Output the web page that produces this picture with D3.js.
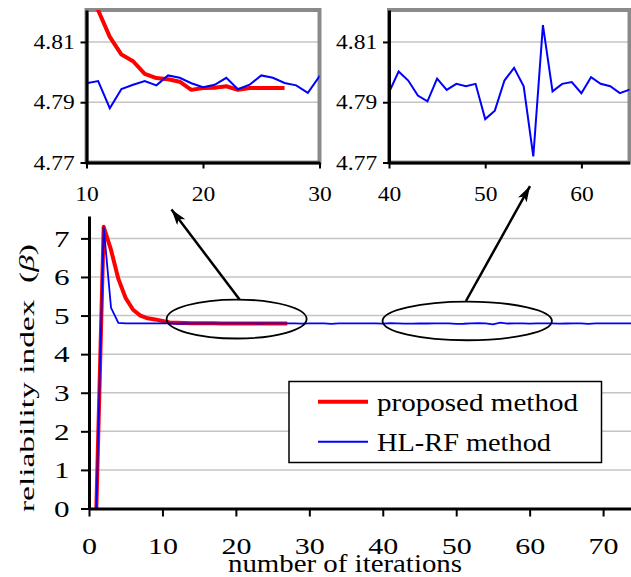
<!DOCTYPE html>
<html>
<head>
<meta charset="UTF-8">
<script src="https://d3js.org/d3.v7.min.js"></script>
<style>
  body { margin: 0; background: #fff; }
  svg { display: block; font-family: "Liberation Serif", "Times New Roman", Times, serif; }
  .grid line { stroke: #c4c4c4; stroke-width: 1.5px; }
</style>
</head>
<body>
<svg id="chart"></svg>
<script>
// proposed method, iterations 1..27
const proposed = [0, 7.3, 6.7, 5.95, 5.45, 5.15, 5.0, 4.93, 4.9, 4.86,
  4.8205, 4.8117, 4.8058, 4.8036, 4.7994, 4.798, 4.7976, 4.7968, 4.7941, 4.7947,
  4.7948, 4.7953, 4.7941, 4.7947, 4.7947, 4.7947, 4.7947];
// HL-RF method, iterations 1..74
const hlrf = [0, 7.3, 5.2, 4.81, 4.798, 4.797, 4.799, 4.796, 4.797, 4.7963,
  4.797, 4.788, 4.7944, 4.7958, 4.797, 4.7956, 4.7989, 4.7981, 4.7963, 4.795,
  4.7958, 4.7981, 4.7943, 4.7958, 4.7989, 4.7981, 4.7964, 4.7956, 4.7931, 4.7986,
  4.797, 4.796, 4.785, 4.796, 4.797, 4.796, 4.798, 4.797, 4.796, 4.7933,
  4.8002, 4.7972, 4.7922, 4.7903, 4.7978, 4.7941, 4.7961, 4.7953, 4.7961, 4.7844,
  4.7872, 4.7972, 4.8014, 4.7953, 4.772, 4.8156, 4.7936, 4.7961, 4.7967, 4.793,
  4.7983, 4.7961, 4.7953, 4.793, 4.7942, 4.796, 4.795, 4.786, 4.796, 4.797,
  4.796, 4.797, 4.796, 4.797];

const mainXTicks = [0, 10, 20, 30, 40, 50, 60, 70];
const mainYTicks = [0, 1, 2, 3, 4, 5, 6, 7];
const zoomYTicks = [4.77, 4.79, 4.81];
const zoom1XTicks = [10, 20, 30];
const zoom2XTicks = [40, 50, 60];
const seriesNames = ["proposed method", "HL-RF method"];

const proposedPts = proposed.map((v, i) => [i + 1, v]);
const hlrfPts = hlrf.map((v, i) => [i + 1, v]);

const width = 631, height = 577;
const serif = '"Liberation Serif", "Times New Roman", Times, serif';
const svg = d3.select("#chart").attr("width", width).attr("height", height);
const defs = svg.append("defs");

// ---- main chart ----
const x = d3.scaleLinear().domain([0, 73.8]).range([89, 631]);
const y = d3.scaleLinear().domain([0, 7.58]).range([508.5, 216]);

svg.append("g").attr("class", "grid")
  .selectAll("line").data(mainYTicks.slice(1)).enter().append("line")
  .attr("x1", x(0)).attr("x2", width)
  .attr("y1", d => y(d)).attr("y2", d => y(d));

const line = (sx, sy) => d3.line().x(d => sx(d[0])).y(d => sy(d[1]));

svg.append("path").datum(proposedPts)
  .attr("d", line(x, y)).attr("fill", "none")
  .attr("stroke", "#ff0000").attr("stroke-width", 4).attr("stroke-linejoin", "round");
svg.append("path").datum(hlrfPts)
  .attr("d", line(x, y)).attr("fill", "none")
  .attr("stroke", "#0000ff").attr("stroke-width", 1.8);

function styleAxis(g, size, sx, stroke) {
  g.attr("font-family", serif);
  g.select(".domain").attr("stroke", "#000").attr("stroke-width", stroke);
  g.selectAll(".tick line").attr("stroke", "#000").attr("stroke-width", 2);
  g.selectAll("text").attr("font-size", size).attr("fill", "#000")
    .attr("transform", `scale(${sx},1)`);
}

svg.append("g").attr("transform", `translate(0,${y(0)})`)
  .call(d3.axisBottom(x).tickValues(mainXTicks).tickSize(8).tickSizeOuter(0).tickPadding(20))
  .call(g => styleAxis(g, 24, 1.25, 3));
svg.append("g").attr("transform", `translate(${x(0)},0)`)
  .call(d3.axisLeft(y).tickValues(mainYTicks).tickSize(8).tickSizeOuter(0).tickPadding(7))
  .call(g => styleAxis(g, 24, 1.3, 3));

svg.append("text")
  .attr("transform", "translate(34,378) rotate(-90)")
  .attr("text-anchor", "middle").attr("font-size", 22)
  .attr("textLength", 268).attr("lengthAdjust", "spacingAndGlyphs")
  .html('reliability index\u00a0 (<tspan font-style="italic">β</tspan>)');

svg.append("text")
  .attr("x", 345).attr("y", 572)
  .attr("text-anchor", "middle").attr("font-size", 25)
  .attr("textLength", 234).attr("lengthAdjust", "spacingAndGlyphs")
  .text("number of iterations");

// ellipses marking the zoomed ranges (data units)
const marks = [
  { cx: 20.1, cy: 4.91, rx: 9.53, ry: 0.505, from: [20.5, 5.415], to: [11.23, 7.75] },
  { cx: 51.5, cy: 4.86, rx: 11.53, ry: 0.5, from: [51.33, 5.377], to: [60.05, 8.357] }
];

defs.append("marker").attr("id", "arrow")
  .attr("viewBox", "0 0 16 10").attr("refX", 16).attr("refY", 5)
  .attr("markerUnits", "userSpaceOnUse")
  .attr("markerWidth", 16).attr("markerHeight", 10).attr("orient", "auto")
  .append("path").attr("d", "M0,0 L16,5 L0,10 L4,5 Z").attr("fill", "#000");

svg.selectAll(".mark").data(marks).enter().append("ellipse")
  .attr("cx", d => x(d.cx)).attr("cy", d => y(d.cy))
  .attr("rx", d => x(d.cx + d.rx) - x(d.cx)).attr("ry", d => y(0) - y(d.ry))
  .attr("fill", "none").attr("stroke", "#000").attr("stroke-width", 1.8);

svg.selectAll(".arrow").data(marks).enter().append("line")
  .attr("x1", d => x(d.from[0])).attr("y1", d => y(d.from[1]))
  .attr("x2", d => x(d.to[0])).attr("y2", d => y(d.to[1]))
  .attr("stroke", "#000").attr("stroke-width", 2.5)
  .attr("marker-end", "url(#arrow)");

// legend
const lg = svg.append("g");
lg.append("rect").attr("x", 289).attr("y", 381.5).attr("width", 312.5).attr("height", 81)
  .attr("fill", "#fff").attr("stroke", "#000").attr("stroke-width", 1.5);
const legendItems = [
  { name: seriesNames[0], color: "#ff0000", w: 4, len: 201 },
  { name: seriesNames[1], color: "#0000ff", w: 2, len: 174 }
];
legendItems.forEach((d, i) => {
  const ly = 401.7 + i * 40;
  lg.append("line").attr("x1", 318).attr("x2", 368).attr("y1", ly).attr("y2", ly)
    .attr("stroke", d.color).attr("stroke-width", d.w);
  lg.append("text").attr("x", 377).attr("y", ly + 9).attr("font-size", 25)
    .attr("textLength", d.len).attr("lengthAdjust", "spacingAndGlyphs")
    .text(d.name);
});

// ---- zoomed insets ----
const yi = d3.scaleLinear().domain([4.77, 4.8206]).range([162.5, 10]);

function inset(id, domain, range, ticks) {
  const xi = d3.scaleLinear().domain(domain).range(range);
  const g = svg.append("g");
  defs.append("clipPath").attr("id", id).append("rect")
    .attr("x", range[0]).attr("y", yi.range()[1])
    .attr("width", range[1] - range[0]).attr("height", yi.range()[0] - yi.range()[1]);

  g.append("g").attr("class", "grid")
    .selectAll("line").data(zoomYTicks.slice(1)).enter().append("line")
    .attr("x1", range[0]).attr("x2", range[1])
    .attr("y1", d => yi(d)).attr("y2", d => yi(d));

  g.append("rect").attr("x", range[0]).attr("y", yi.range()[1])
    .attr("width", range[1] - range[0]).attr("height", yi.range()[0] - yi.range()[1])
    .attr("fill", "none").attr("stroke", "#8a8a8a").attr("stroke-width", 4);

  const lines = g.append("g").attr("clip-path", `url(#${id})`);
  lines.append("path").datum(proposedPts)
    .attr("d", line(xi, yi)).attr("fill", "none")
    .attr("stroke", "#ff0000").attr("stroke-width", 4).attr("stroke-linejoin", "round");
  lines.append("path").datum(hlrfPts)
    .attr("d", line(xi, yi)).attr("fill", "none")
    .attr("stroke", "#0000ff").attr("stroke-width", 2);

  g.append("g").attr("transform", `translate(0,${yi.range()[0]})`)
    .call(d3.axisBottom(xi).tickValues(ticks).tickSize(6).tickSizeOuter(0).tickPadding(18))
    .call(a => styleAxis(a, 21, 1.12, 3));
  g.append("g").attr("transform", `translate(${range[0]},0)`)
    .call(d3.axisLeft(yi).tickValues(zoomYTicks).tickSize(6).tickSizeOuter(0).tickPadding(4.5)
      .tickFormat(d3.format(".2f")))
    .call(a => styleAxis(a, 21, 1.12, 3));
}

inset("clip1", [10, 30], [86.5, 319.5], zoom1XTicks);
inset("clip2", [40, 65], [389, 629.5], zoom2XTicks);
</script>
</body>
</html>
